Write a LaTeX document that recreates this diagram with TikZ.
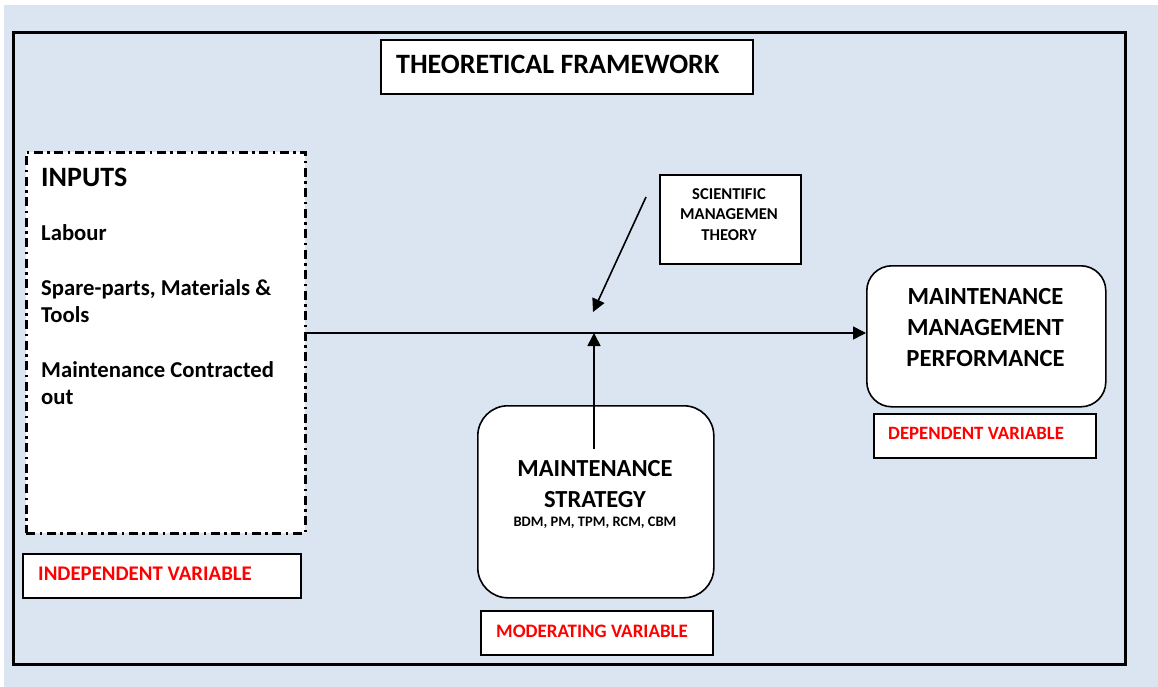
\documentclass[tikz,border=0pt]{standalone}
\usepackage{fontspec}
\setmainfont{Carlito}
\usetikzlibrary{arrows.meta}
\definecolor{pageblue}{RGB}{219,229,241}
\definecolor{varred}{RGB}{255,0,0}
\begin{document}
\begin{tikzpicture}[x=1pt,y=-1pt,
  plainbox/.style={rectangle, draw=black, fill=white, line width=1.6pt,
    inner sep=0pt, anchor=north west},
  roundbox/.style={plainbox, rounded corners=#1},
  dashdotbox/.style={plainbox, line width=2.8pt,
    dash pattern=on 9pt off 4.5pt on 2.5pt off 4.5pt},
  boldtext/.style={inner sep=0pt, font=\bfseries\fontsize{#1}{#1}\selectfont},
  centertext/.style 2 args={inner sep=0pt, align=center, anchor=north,
    font=\bfseries\fontsize{#1}{#2}\selectfont},
  vartext/.style={inner sep=0pt, anchor=base west, text=varred,
    font=\bfseries\fontsize{#1}{#1}\selectfont},
  conn/.style={line width=1.6pt, -{Triangle[length=13pt,width=13pt]}}
]
% page and outer frame
\fill[white] (0,0) rectangle (1158,687);
\fill[pageblue] (4,5) rectangle (1158,687);
\useasboundingbox (0,0) rectangle (1158,687);
\node[plainbox, fill=none, line width=3pt, minimum width=1112pt, minimum height=632pt] (frame) at (12,31) {};

% title
\node[plainbox, line width=1.8pt, minimum width=372pt, minimum height=54pt] (title) at (380,39) {};
\node[boldtext=28, anchor=base west] (titleText) at (396,73.3) {THEORETICAL FRAMEWORK};

% inputs (independent variable)
\node[dashdotbox, minimum width=279pt, minimum height=381pt] (inputs) at (25,151) {};
\node[boldtext=28, anchor=base west] (inHead) at (41,186) {INPUTS};
\node[boldtext=22.7, anchor=base west] (inLabour) at (41,240.7) {Labour};
\node[boldtext=22.7, anchor=base west] (inSpare) at (41,295.5) {Spare-parts, Materials \&};
\node[boldtext=22.7, anchor=base west] (inTools) at (41,322.8) {Tools};
\node[boldtext=22.7, anchor=base west] (inContract) at (41,377.5) {Maintenance Contracted};
\node[boldtext=22.7, anchor=base west] (inOut) at (41,404.5) {out};

\node[plainbox, minimum width=278pt, minimum height=44pt] (indep) at (22,553) {};
\node[vartext=20.8] (indepText) at (38,580.7) {INDEPENDENT VARIABLE};

% theory
\node[plainbox, minimum width=141pt, minimum height=89pt] (sci) at (659,174) {};
\node[centertext={16.6}{20.5}] (sciText) at (729,188.3) {SCIENTIFIC\\MANAGEMEN\\THEORY};

% moderating variable
\node[roundbox=30pt, minimum width=236pt, minimum height=192pt] (strategy) at (477,405) {};
\node[centertext={24.5}{31}] (stratText) at (595,460) {MAINTENANCE\\STRATEGY};
\node[boldtext=14.5, anchor=base] (stratSub) at (595,526.7) {BDM, PM, TPM, RCM, CBM};

\node[plainbox, minimum width=232pt, minimum height=44pt] (moder) at (480,610) {};
\node[vartext=19] (moderText) at (496,637.3) {MODERATING VARIABLE};

% dependent variable
\node[roundbox=25pt, minimum width=239pt, minimum height=141pt] (perf) at (866,265) {};
\node[centertext={24.6}{30.8}] (perfText) at (985.5,288.3) {MAINTENANCE\\MANAGEMENT\\PERFORMANCE};

\node[plainbox, minimum width=222pt, minimum height=44pt] (dep) at (873,413) {};
\node[vartext=18.8] (depText) at (888,439.3) {DEPENDENT VARIABLE};

% connectors
\coordinate (junction) at (594,333);
\coordinate (stratTail) at (594,449);
\coordinate (sciTail) at (646,197);
\coordinate (sciTip) at (593,312);
\draw[conn] (inputs.east |- junction) -- (perf.west |- junction);
\draw[conn] (stratTail) -- (junction);
\draw[conn] (sciTail) -- (sciTip);
\end{tikzpicture}
\end{document}
